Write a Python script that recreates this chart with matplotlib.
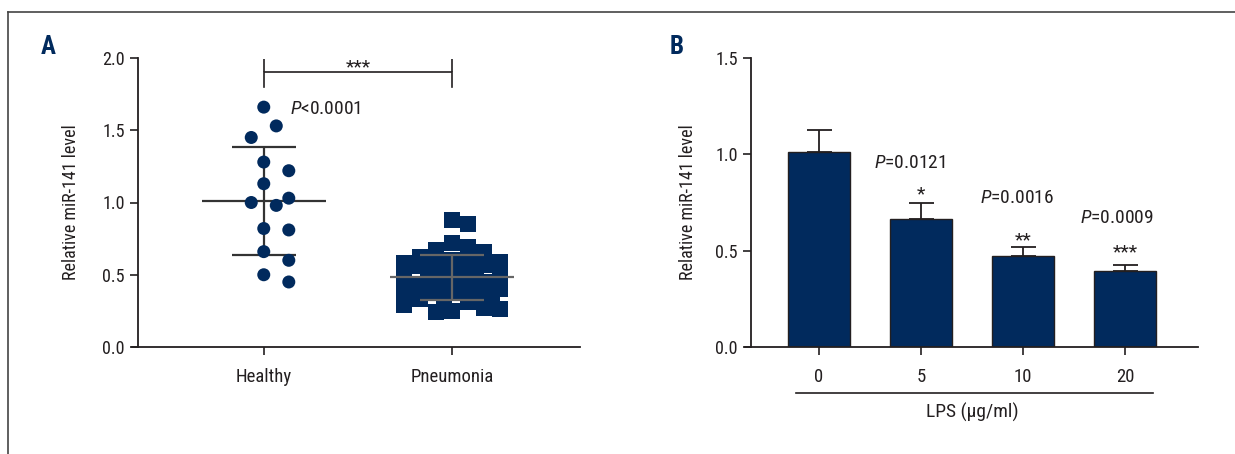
import numpy as np
import matplotlib.pyplot as plt
from matplotlib import transforms
from matplotlib import font_manager as fm
from matplotlib.lines import Line2D

# pick a narrow sans if one is around, the labels are set in a condensed face
have = {(f.name, f.stretch) for f in fm.fontManager.ttflist}
names = {n for n, _ in have}
narrow = next((n for n in ['Liberation Sans Narrow', 'Roboto Condensed',
                           'Open Sans Condensed', 'Noto Sans Condensed',
                           'DejaVu Sans Condensed'] if n in names), None)
stretch = 'normal'
if narrow is None:
    narrow = 'DejaVu Sans'
    if any(n == 'DejaVu Sans' and s in ('condensed', 'semi-condensed', 75, 87)
           for n, s in have):
        stretch = 'condensed'

plt.rcParams['font.family'] = [narrow, 'DejaVu Sans']
plt.rcParams['font.stretch'] = stretch
plt.rcParams['mathtext.fontset'] = 'custom'
plt.rcParams['mathtext.rm'] = narrow
plt.rcParams['mathtext.it'] = narrow + ':italic'

navy = '#012a5d'
ink = '#231f20'

# A: relative miR-141 per subject
groups = ['Healthy', 'Pneumonia']
healthy = [1.66, 1.53, 1.45, 1.28, 1.22, 1.13, 1.00, 0.98, 1.03,
           0.81, 0.82, 0.66, 0.60, 0.50, 0.45]
pneumonia = [0.88, 0.85, 0.72, 0.69, 0.67, 0.66, 0.62, 0.60, 0.59, 0.58,
             0.58, 0.57, 0.57, 0.56, 0.55, 0.53, 0.50, 0.49, 0.48, 0.47,
             0.47, 0.45, 0.44, 0.43, 0.42, 0.41, 0.40, 0.39, 0.38, 0.38,
             0.37, 0.36, 0.35, 0.33, 0.31, 0.29, 0.27, 0.26, 0.25, 0.24]

# B: LPS dose response (mean, SD)
lps_doses = ['0', '5', '10', '20']
lps_mean = [1.01, 0.665, 0.47, 0.395]
lps_sd = [0.115, 0.08, 0.05, 0.03]
lps_stars = ['', '*', '**', '***']
lps_pvals = ['', '0.0121', '0.0016', '0.0009']


def swarm(values, px_x, px_y, size, step, max_off):
    # greedy layout: each point goes to the free slot nearest the centre
    values = np.asarray(values)
    order = np.argsort(values)[::-1]
    cands = [0.0]
    k = 1
    while k * step <= max_off:
        cands += [k * step, -k * step]
        k += 1
    placed = []
    offs = np.zeros(len(values))
    for i in order:
        y = values[i] * px_y
        best, best_d = 0.0, -1.0
        for c in cands:
            d = min([np.hypot(c - px, y - py) for px, py in placed], default=np.inf)
            if d >= size:
                best = c
                break
            if d > best_d:
                best, best_d = c, d
        offs[i] = best
        placed.append((best, y))
    return offs / px_x


fig = plt.figure(figsize=(12.35, 4.54), dpi=100)

# frame lines
fig.add_artist(Line2D([8 / 1235, 1], [1 - 12 / 454] * 2, color='#444444', lw=1.2))
fig.add_artist(Line2D([8 / 1235] * 2, [0, 1 - 12 / 454], color='#444444', lw=1.2))


def style_axes(ax):
    for s in ['top', 'right']:
        ax.spines[s].set_visible(False)
    for s in ['left', 'bottom']:
        ax.spines[s].set_color(ink)
        ax.spines[s].set_linewidth(1.3)
    ax.spines['left'].set_position(('axes', 0.013))
    ax.tick_params(colors=ink, width=1.2, length=6, labelsize=13)
    ax.tick_params(axis='x', labelsize=13.5, pad=9)


# ---- panel A ----
axA = fig.add_axes([132 / 1235, 1 - 347 / 454, 448 / 1235, 289 / 454])
style_axes(axA)
axA.set_xlim(-0.7, 1.68)
axA.set_ylim(0, 2.0)
axA.set_yticks([0, 0.5, 1.0, 1.5, 2.0])
axA.set_xticks([0, 1])
axA.set_xticklabels(groups)

for i, (vals, mk, sz, gap, step, px, col, z) in enumerate([
        (healthy, 'o', 13, 21, 12.5, 26, '#333333', 1),
        (pneumonia, 's', 16, 16, 8, 52, '#666666', 4)]):
    offs = swarm(vals, 188, 145, gap, step, px)
    axA.scatter(i + offs, vals, marker=mk, s=(sz * 0.72) ** 2, color=navy,
                edgecolors='none', zorder=3, clip_on=False)
    m, sd = np.mean(vals), np.std(vals, ddof=1)
    axA.hlines(m, i - 0.33, i + 0.33, color=col, lw=1.6, zorder=z)
    axA.hlines([m - sd, m + sd], i - 0.17, i + 0.17, color=col, lw=1.6, zorder=z)
    axA.vlines(i, m - sd, m + sd, color=col, lw=1.6, zorder=z)

# significance bracket
axA.plot([0, 0, 1, 1], [1.80, 1.90, 1.90, 1.80], color=ink, lw=1.2, clip_on=False)
axA.vlines([0, 1], 1.90, 1.99, color=ink, lw=1.2, clip_on=False)
axA.text(0.5, 1.935, '***', ha='center', va='center', fontsize=14, color=ink)
axA.text(0.14, 1.65, r'$\it{P}$<0.0001', ha='left', va='center', fontsize=14, color=ink)
axA.set_ylabel('Relative miR-141 level', fontsize=13, color=ink)
axA.yaxis.set_label_coords(-0.116, 0.5)

fig.text(48 / 1235, 1 - 47 / 454, 'A', fontsize=18, fontweight='bold', color=navy,
         ha='center', va='center')

# ---- panel B ----
axB = fig.add_axes([745 / 1235, 1 - 347 / 454, 453 / 1235, 289 / 454])
style_axes(axB)
x = np.arange(len(lps_doses))
axB.bar(x, lps_mean, width=0.6, color=navy, edgecolor=ink, lw=1.0, zorder=2)
axB.errorbar(x, lps_mean, yerr=[np.zeros(len(x)), lps_sd], fmt='none',
             ecolor=ink, elinewidth=1.3, capsize=9, capthick=1.3, zorder=1)
axB.set_xlim(-0.725, 3.715)
axB.set_ylim(0, 1.5)
axB.set_yticks([0, 0.5, 1.0, 1.5])
axB.set_xticks(x)
axB.set_xticklabels(lps_doses)

star_y = [0, 0.79, 0.555, 0.49]
p_pos = [(0, 0), (0.89, 0.955), (1.94, 0.775), (2.92, 0.67)]
for i in range(1, len(x)):
    axB.text(x[i], star_y[i], lps_stars[i], ha='center', va='center',
             fontsize=14, color=ink)
    axB.text(p_pos[i][0], p_pos[i][1], r'$\it{P}$=' + lps_pvals[i],
             ha='center', va='center', fontsize=14, color=ink)

trans = transforms.blended_transform_factory(axB.transData, axB.transAxes)
axB.plot([-0.225, 3.27], [-0.159, -0.159], color=ink, lw=1.2,
         transform=trans, clip_on=False)
axB.text(1.5, -0.225, 'LPS (μg/ml)', transform=trans, ha='center', va='center',
         fontsize=14, color=ink)
axB.set_ylabel('Relative miR-141 level', fontsize=13, color=ink)
axB.yaxis.set_label_coords(-0.106, 0.5)

fig.text(677 / 1235, 1 - 47 / 454, 'B', fontsize=18, fontweight='bold', color=navy,
         ha='center', va='center')

fig.savefig('out.png', dpi=100)
